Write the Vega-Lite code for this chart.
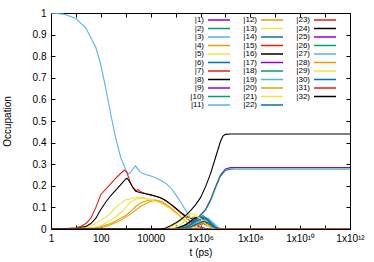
{
  "$schema": "https://vega.github.io/schema/vega-lite/v6.json",
  "width": 299,
  "height": 216,
  "autosize": "none",
  "padding": {"left": 51, "top": 13, "right": 24, "bottom": 33},
  "background": "white",
  "config": {
    "view": {"stroke": null},
    "font": "Liberation Sans",
    "axis": {"domainColor": "black", "labelColor": "black", "tickColor": "black", "titleColor": "black", "labelFont": "Liberation Sans", "titleFont": "Liberation Sans", "labelFontSize": 10, "titleFontSize": 10, "titleFontWeight": "normal", "grid": false, "zindex": 1, "tickSize": -4, "domainWidth": 1}
  },
  "data": {"values": [
    {"s":"|1)","t":1,"v":0},{"s":"|1)","t":1e12,"v":0},
    {"s":"|2)","t":1,"v":0},{"s":"|2)","t":1e12,"v":0},
    {"s":"|3)","t":1,"v":1},{"s":"|3)","t":3.162,"v":0.995},{"s":"|3)","t":10,"v":0.975},{"s":"|3)","t":25.12,"v":0.93},{"s":"|3)","t":63.1,"v":0.84},{"s":"|3)","t":100,"v":0.76},{"s":"|3)","t":158.5,"v":0.65},{"s":"|3)","t":251.2,"v":0.53},{"s":"|3)","t":398.1,"v":0.42},{"s":"|3)","t":631,"v":0.33},{"s":"|3)","t":1000,"v":0.275},{"s":"|3)","t":1259,"v":0.255},{"s":"|3)","t":1585,"v":0.262},{"s":"|3)","t":1995,"v":0.28},{"s":"|3)","t":2512,"v":0.292},{"s":"|3)","t":3162,"v":0.275},{"s":"|3)","t":3981,"v":0.262},{"s":"|3)","t":6310,"v":0.252},{"s":"|3)","t":10000,"v":0.245},{"s":"|3)","t":15850,"v":0.237},{"s":"|3)","t":25120,"v":0.226},{"s":"|3)","t":39810,"v":0.212},{"s":"|3)","t":63100,"v":0.192},{"s":"|3)","t":100000,"v":0.16},{"s":"|3)","t":158500,"v":0.126},{"s":"|3)","t":251200,"v":0.087},{"s":"|3)","t":398100,"v":0.052},{"s":"|3)","t":631000,"v":0.025},{"s":"|3)","t":1000000,"v":0.01},{"s":"|3)","t":1585000,"v":0.003},{"s":"|3)","t":2512000,"v":0},{"s":"|3)","t":1e12,"v":0},
    {"s":"|4)","t":1,"v":0},{"s":"|4)","t":39.81,"v":0.003},{"s":"|4)","t":100,"v":0.012},{"s":"|4)","t":251.2,"v":0.025},{"s":"|4)","t":631,"v":0.05},{"s":"|4)","t":1000,"v":0.062},{"s":"|4)","t":1585,"v":0.082},{"s":"|4)","t":2512,"v":0.104},{"s":"|4)","t":3981,"v":0.12},{"s":"|4)","t":6310,"v":0.13},{"s":"|4)","t":10000,"v":0.134},{"s":"|4)","t":15850,"v":0.134},{"s":"|4)","t":25120,"v":0.128},{"s":"|4)","t":39810,"v":0.115},{"s":"|4)","t":63100,"v":0.098},{"s":"|4)","t":100000,"v":0.078},{"s":"|4)","t":158500,"v":0.057},{"s":"|4)","t":251200,"v":0.037},{"s":"|4)","t":398100,"v":0.02},{"s":"|4)","t":631000,"v":0.008},{"s":"|4)","t":1000000,"v":0.002},{"s":"|4)","t":1585000,"v":0},{"s":"|4)","t":1e12,"v":0},
    {"s":"|5)","t":1,"v":0},{"s":"|5)","t":15.85,"v":0.002},{"s":"|5)","t":39.81,"v":0.015},{"s":"|5)","t":100,"v":0.04},{"s":"|5)","t":158.5,"v":0.055},{"s":"|5)","t":251.2,"v":0.075},{"s":"|5)","t":398.1,"v":0.1},{"s":"|5)","t":631,"v":0.12},{"s":"|5)","t":1000,"v":0.135},{"s":"|5)","t":1585,"v":0.14},{"s":"|5)","t":2512,"v":0.145},{"s":"|5)","t":3981,"v":0.147},{"s":"|5)","t":6310,"v":0.143},{"s":"|5)","t":10000,"v":0.137},{"s":"|5)","t":15850,"v":0.13},{"s":"|5)","t":25120,"v":0.122},{"s":"|5)","t":39810,"v":0.108},{"s":"|5)","t":63100,"v":0.095},{"s":"|5)","t":100000,"v":0.075},{"s":"|5)","t":158500,"v":0.056},{"s":"|5)","t":251200,"v":0.035},{"s":"|5)","t":398100,"v":0.018},{"s":"|5)","t":631000,"v":0.007},{"s":"|5)","t":1000000,"v":0.002},{"s":"|5)","t":1585000,"v":0},{"s":"|5)","t":1e12,"v":0},
    {"s":"|6)","t":1,"v":0},{"s":"|6)","t":63100,"v":0},{"s":"|6)","t":158500,"v":0.01},{"s":"|6)","t":398100,"v":0.03},{"s":"|6)","t":794300,"v":0.05},{"s":"|6)","t":1259000,"v":0.055},{"s":"|6)","t":1995000,"v":0.04},{"s":"|6)","t":3162000,"v":0.015},{"s":"|6)","t":5012000,"v":0},{"s":"|6)","t":1e12,"v":0},
    {"s":"|7)","t":1,"v":0},{"s":"|7)","t":3.162,"v":0.001},{"s":"|7)","t":10,"v":0.006},{"s":"|7)","t":15.85,"v":0.013},{"s":"|7)","t":25.12,"v":0.025},{"s":"|7)","t":39.81,"v":0.05},{"s":"|7)","t":63.1,"v":0.1},{"s":"|7)","t":100,"v":0.16},{"s":"|7)","t":158.5,"v":0.185},{"s":"|7)","t":251.2,"v":0.21},{"s":"|7)","t":398.1,"v":0.235},{"s":"|7)","t":631,"v":0.258},{"s":"|7)","t":891.3,"v":0.273},{"s":"|7)","t":1122,"v":0.26},{"s":"|7)","t":1585,"v":0.21},{"s":"|7)","t":1995,"v":0.19},{"s":"|7)","t":2512,"v":0.178},{"s":"|7)","t":3162,"v":0.182},{"s":"|7)","t":3981,"v":0.172},{"s":"|7)","t":6310,"v":0.163},{"s":"|7)","t":10000,"v":0.158},{"s":"|7)","t":15850,"v":0.152},{"s":"|7)","t":25120,"v":0.145},{"s":"|7)","t":39810,"v":0.132},{"s":"|7)","t":63100,"v":0.115},{"s":"|7)","t":100000,"v":0.095},{"s":"|7)","t":158500,"v":0.075},{"s":"|7)","t":251200,"v":0.055},{"s":"|7)","t":398100,"v":0.035},{"s":"|7)","t":631000,"v":0.018},{"s":"|7)","t":1000000,"v":0.007},{"s":"|7)","t":1585000,"v":0.002},{"s":"|7)","t":2512000,"v":0},{"s":"|7)","t":1e12,"v":0},
    {"s":"|8)","t":1,"v":0},{"s":"|8)","t":10,"v":0.003},{"s":"|8)","t":25.12,"v":0.012},{"s":"|8)","t":39.81,"v":0.025},{"s":"|8)","t":63.1,"v":0.05},{"s":"|8)","t":100,"v":0.09},{"s":"|8)","t":158.5,"v":0.125},{"s":"|8)","t":251.2,"v":0.155},{"s":"|8)","t":398.1,"v":0.18},{"s":"|8)","t":631,"v":0.205},{"s":"|8)","t":1000,"v":0.232},{"s":"|8)","t":1122,"v":0.235},{"s":"|8)","t":1413,"v":0.22},{"s":"|8)","t":1995,"v":0.19},{"s":"|8)","t":2512,"v":0.175},{"s":"|8)","t":3981,"v":0.168},{"s":"|8)","t":6310,"v":0.163},{"s":"|8)","t":10000,"v":0.158},{"s":"|8)","t":15850,"v":0.152},{"s":"|8)","t":25120,"v":0.145},{"s":"|8)","t":39810,"v":0.132},{"s":"|8)","t":63100,"v":0.115},{"s":"|8)","t":100000,"v":0.097},{"s":"|8)","t":158500,"v":0.078},{"s":"|8)","t":251200,"v":0.06},{"s":"|8)","t":398100,"v":0.05},{"s":"|8)","t":631000,"v":0.052},{"s":"|8)","t":1000000,"v":0.045},{"s":"|8)","t":1585000,"v":0.025},{"s":"|8)","t":2512000,"v":0.008},{"s":"|8)","t":3981000,"v":0},{"s":"|8)","t":1e12,"v":0},
    {"s":"|9)","t":1,"v":0},{"s":"|9)","t":1e12,"v":0},
    {"s":"|10)","t":1,"v":0},{"s":"|10)","t":158500,"v":0},{"s":"|10)","t":398100,"v":0.015},{"s":"|10)","t":1000000,"v":0.04},{"s":"|10)","t":1585000,"v":0.045},{"s":"|10)","t":2512000,"v":0.03},{"s":"|10)","t":3981000,"v":0.008},{"s":"|10)","t":6310000,"v":0},{"s":"|10)","t":1e12,"v":0},
    {"s":"|11)","t":1,"v":0},{"s":"|11)","t":158500,"v":0},{"s":"|11)","t":398100,"v":0.015},{"s":"|11)","t":1000000,"v":0.04},{"s":"|11)","t":1995000,"v":0.05},{"s":"|11)","t":3162000,"v":0.03},{"s":"|11)","t":5012000,"v":0.008},{"s":"|11)","t":7943000,"v":0},{"s":"|11)","t":1e12,"v":0},
    {"s":"|12)","t":1,"v":0},{"s":"|12)","t":100,"v":0.005},{"s":"|12)","t":251.2,"v":0.02},{"s":"|12)","t":631,"v":0.04},{"s":"|12)","t":1585,"v":0.07},{"s":"|12)","t":3981,"v":0.105},{"s":"|12)","t":10000,"v":0.128},{"s":"|12)","t":15850,"v":0.132},{"s":"|12)","t":25120,"v":0.127},{"s":"|12)","t":39810,"v":0.115},{"s":"|12)","t":63100,"v":0.098},{"s":"|12)","t":100000,"v":0.078},{"s":"|12)","t":158500,"v":0.057},{"s":"|12)","t":251200,"v":0.037},{"s":"|12)","t":398100,"v":0.02},{"s":"|12)","t":631000,"v":0.008},{"s":"|12)","t":1000000,"v":0.002},{"s":"|12)","t":1585000,"v":0},{"s":"|12)","t":1e12,"v":0},
    {"s":"|13)","t":1,"v":0},{"s":"|13)","t":39.81,"v":0.004},{"s":"|13)","t":100,"v":0.015},{"s":"|13)","t":251.2,"v":0.04},{"s":"|13)","t":631,"v":0.075},{"s":"|13)","t":1000,"v":0.1},{"s":"|13)","t":1585,"v":0.125},{"s":"|13)","t":2512,"v":0.138},{"s":"|13)","t":3981,"v":0.142},{"s":"|13)","t":6310,"v":0.14},{"s":"|13)","t":10000,"v":0.135},{"s":"|13)","t":15850,"v":0.128},{"s":"|13)","t":25120,"v":0.12},{"s":"|13)","t":39810,"v":0.106},{"s":"|13)","t":63100,"v":0.092},{"s":"|13)","t":100000,"v":0.073},{"s":"|13)","t":158500,"v":0.055},{"s":"|13)","t":251200,"v":0.035},{"s":"|13)","t":398100,"v":0.018},{"s":"|13)","t":631000,"v":0.007},{"s":"|13)","t":1000000,"v":0.002},{"s":"|13)","t":1585000,"v":0},{"s":"|13)","t":1e12,"v":0},
    {"s":"|14)","t":1,"v":0},{"s":"|14)","t":100000,"v":0},{"s":"|14)","t":251200,"v":0.015},{"s":"|14)","t":631000,"v":0.045},{"s":"|14)","t":1259000,"v":0.062},{"s":"|14)","t":1995000,"v":0.045},{"s":"|14)","t":3162000,"v":0.015},{"s":"|14)","t":5012000,"v":0},{"s":"|14)","t":1e12,"v":0},
    {"s":"|15)","t":1,"v":0},{"s":"|15)","t":158500,"v":0},{"s":"|15)","t":398100,"v":0.01},{"s":"|15)","t":794300,"v":0.025},{"s":"|15)","t":1259000,"v":0.03},{"s":"|15)","t":1995000,"v":0.02},{"s":"|15)","t":3162000,"v":0.005},{"s":"|15)","t":5012000,"v":0},{"s":"|15)","t":1e12,"v":0},
    {"s":"|16)","t":1,"v":0},{"s":"|16)","t":100000,"v":0},{"s":"|16)","t":251200,"v":0.02},{"s":"|16)","t":501200,"v":0.045},{"s":"|16)","t":794300,"v":0.055},{"s":"|16)","t":1259000,"v":0.045},{"s":"|16)","t":1995000,"v":0.02},{"s":"|16)","t":3162000,"v":0.005},{"s":"|16)","t":5012000,"v":0},{"s":"|16)","t":1e12,"v":0},
    {"s":"|17)","t":1,"v":0},{"s":"|17)","t":1e12,"v":0},
    {"s":"|18)","t":1,"v":0},{"s":"|18)","t":251200,"v":0},{"s":"|18)","t":631000,"v":0.02},{"s":"|18)","t":1259000,"v":0.035},{"s":"|18)","t":1995000,"v":0.03},{"s":"|18)","t":3162000,"v":0.01},{"s":"|18)","t":5012000,"v":0},{"s":"|18)","t":1e12,"v":0},
    {"s":"|19)","t":1,"v":0},{"s":"|19)","t":251200,"v":0},{"s":"|19)","t":631000,"v":0.02},{"s":"|19)","t":1259000,"v":0.04},{"s":"|19)","t":1995000,"v":0.042},{"s":"|19)","t":3162000,"v":0.02},{"s":"|19)","t":5012000,"v":0},{"s":"|19)","t":1e12,"v":0},
    {"s":"|20)","t":1,"v":0},{"s":"|20)","t":158500,"v":0},{"s":"|20)","t":398100,"v":0.02},{"s":"|20)","t":794300,"v":0.04},{"s":"|20)","t":1259000,"v":0.045},{"s":"|20)","t":1995000,"v":0.03},{"s":"|20)","t":3162000,"v":0.01},{"s":"|20)","t":5012000,"v":0},{"s":"|20)","t":1e12,"v":0},
    {"s":"|21)","t":1,"v":0},{"s":"|21)","t":39810,"v":0},{"s":"|21)","t":100000,"v":0.02},{"s":"|21)","t":199500,"v":0.05},{"s":"|21)","t":398100,"v":0.072},{"s":"|21)","t":631000,"v":0.065},{"s":"|21)","t":1000000,"v":0.045},{"s":"|21)","t":1585000,"v":0.02},{"s":"|21)","t":2512000,"v":0.005},{"s":"|21)","t":3981000,"v":0},{"s":"|21)","t":1e12,"v":0},
    {"s":"|22)","t":1,"v":0},{"s":"|22)","t":158500,"v":0},{"s":"|22)","t":398100,"v":0.02},{"s":"|22)","t":794300,"v":0.04},{"s":"|22)","t":1585000,"v":0.05},{"s":"|22)","t":2512000,"v":0.03},{"s":"|22)","t":3981000,"v":0.008},{"s":"|22)","t":6310000,"v":0},{"s":"|22)","t":1e12,"v":0},
    {"s":"|23)","t":1,"v":0},{"s":"|23)","t":251200,"v":0},{"s":"|23)","t":631000,"v":0.015},{"s":"|23)","t":1259000,"v":0.025},{"s":"|23)","t":1995000,"v":0.015},{"s":"|23)","t":3162000,"v":0.003},{"s":"|23)","t":5012000,"v":0},{"s":"|23)","t":1e12,"v":0},
    {"s":"|24)","t":1,"v":0},{"s":"|24)","t":1e12,"v":0},
    {"s":"|25)","t":1,"v":0},{"s":"|25)","t":100000,"v":0},{"s":"|25)","t":251200,"v":0.008},{"s":"|25)","t":398100,"v":0.02},{"s":"|25)","t":631000,"v":0.04},{"s":"|25)","t":1000000,"v":0.065},{"s":"|25)","t":1585000,"v":0.09},{"s":"|25)","t":2512000,"v":0.135},{"s":"|25)","t":3981000,"v":0.195},{"s":"|25)","t":6310000,"v":0.25},{"s":"|25)","t":10000000,"v":0.278},{"s":"|25)","t":15850000,"v":0.284},{"s":"|25)","t":25120000,"v":0.285},{"s":"|25)","t":1e12,"v":0.285},
    {"s":"|26)","t":1,"v":0},{"s":"|26)","t":100000,"v":0},{"s":"|26)","t":251200,"v":0.007},{"s":"|26)","t":398100,"v":0.018},{"s":"|26)","t":631000,"v":0.038},{"s":"|26)","t":1000000,"v":0.062},{"s":"|26)","t":1585000,"v":0.087},{"s":"|26)","t":2512000,"v":0.13},{"s":"|26)","t":3981000,"v":0.19},{"s":"|26)","t":6310000,"v":0.244},{"s":"|26)","t":10000000,"v":0.271},{"s":"|26)","t":15850000,"v":0.277},{"s":"|26)","t":25120000,"v":0.278},{"s":"|26)","t":1e12,"v":0.278},
    {"s":"|27)","t":1,"v":0},{"s":"|27)","t":1e12,"v":0},
    {"s":"|28)","t":1,"v":0},{"s":"|28)","t":251200,"v":0},{"s":"|28)","t":631000,"v":0.015},{"s":"|28)","t":1259000,"v":0.03},{"s":"|28)","t":1995000,"v":0.02},{"s":"|28)","t":3162000,"v":0.005},{"s":"|28)","t":5012000,"v":0},{"s":"|28)","t":1e12,"v":0},
    {"s":"|29)","t":1,"v":0},{"s":"|29)","t":63100,"v":0},{"s":"|29)","t":158500,"v":0.02},{"s":"|29)","t":316200,"v":0.05},{"s":"|29)","t":631000,"v":0.06},{"s":"|29)","t":1000000,"v":0.05},{"s":"|29)","t":1585000,"v":0.025},{"s":"|29)","t":2512000,"v":0.006},{"s":"|29)","t":3981000,"v":0},{"s":"|29)","t":1e12,"v":0},
    {"s":"|30)","t":1,"v":0},{"s":"|30)","t":251200,"v":0},{"s":"|30)","t":631000,"v":0.02},{"s":"|30)","t":1259000,"v":0.035},{"s":"|30)","t":1995000,"v":0.03},{"s":"|30)","t":3162000,"v":0.01},{"s":"|30)","t":5012000,"v":0},{"s":"|30)","t":1e12,"v":0},
    {"s":"|31)","t":1,"v":0},{"s":"|31)","t":1e12,"v":0},
    {"s":"|32)","t":1,"v":0},{"s":"|32)","t":25120,"v":0},{"s":"|32)","t":39810,"v":0.005},{"s":"|32)","t":63100,"v":0.015},{"s":"|32)","t":100000,"v":0.028},{"s":"|32)","t":158500,"v":0.043},{"s":"|32)","t":251200,"v":0.062},{"s":"|32)","t":398100,"v":0.085},{"s":"|32)","t":631000,"v":0.112},{"s":"|32)","t":1000000,"v":0.145},{"s":"|32)","t":1585000,"v":0.195},{"s":"|32)","t":2512000,"v":0.255},{"s":"|32)","t":3981000,"v":0.33},{"s":"|32)","t":6310000,"v":0.405},{"s":"|32)","t":7943000,"v":0.43},{"s":"|32)","t":10000000,"v":0.438},{"s":"|32)","t":15850000,"v":0.44},{"s":"|32)","t":1e12,"v":0.44}
  ]},
  "layer": [
    {
      "mark": {"type": "line", "strokeWidth": 1.1, "clip": true},
      "encoding": {
        "x": {"field": "t", "type": "quantitative", "scale": {"type": "log", "domain": [1, 1e12], "nice": false},
          "axis": {"orient": "bottom", "title": "t (ps)", "values": [1,10,100,1000,10000,100000,1000000,10000000,100000000,1000000000,10000000000,100000000000,1000000000000],
            "labelExpr": "datum.value==1?'1':datum.value==100?'100':datum.value==10000?'10000':datum.value==1e6?'1x10⁶':datum.value==1e8?'1x10⁸':datum.value==1e10?'1x10¹⁰':datum.value==1e12?'1x10¹²':''",
            "labelPadding": 8, "titlePadding": 4, "labelFlush": false, "labelOverlap": false}},
        "y": {"field": "v", "type": "quantitative", "scale": {"domain": [0, 1], "nice": false},
          "axis": {"orient": "left", "title": "Occupation", "values": [0,0.1,0.2,0.3,0.4,0.5,0.6,0.7,0.8,0.9,1], "format": "~g", "labelPadding": 9, "titlePadding": 20}},
        "color": {"field": "s", "type": "nominal",
          "scale": {"domain": ["|1)","|2)","|3)","|4)","|5)","|6)","|7)","|8)","|9)","|10)","|11)","|12)","|13)","|14)","|15)","|16)","|17)","|18)","|19)","|20)","|21)","|22)","|23)","|24)","|25)","|26)","|27)","|28)","|29)","|30)","|31)","|32)"],
            "range": ["#9400d3","#009e73","#56b4e9","#e69f00","#f0e442","#0072b2","#e51e10","#000000","#9400d3","#009e73","#56b4e9","#e69f00","#f0e442","#0072b2","#e51e10","#000000","#9400d3","#009e73","#56b4e9","#e69f00","#f0e442","#0072b2","#e51e10","#000000","#9400d3","#009e73","#56b4e9","#e69f00","#f0e442","#0072b2","#e51e10","#000000"]},
          "legend": {"orient": "none", "legendX": 152, "legendY": 3, "columns": 3, "title": null, "direction": "vertical", "symbolLimit": 40, "symbolType": "M-4,0H4", "symbolSize": 30.25, "symbolStrokeWidth": 1.5, "symbolOffset": 12, "labelAlign": "right", "labelOffset": -19, "labelFontSize": 8, "labelFont": "Liberation Sans", "labelColor": "black", "rowPadding": 0.5, "columnPadding": 10, "padding": 0}}
      }
    },
    {
      "mark": {"type": "point", "opacity": 0},
      "encoding": {
        "x": {"field": "t", "type": "quantitative", "scale": {"type": "log", "domain": [1, 1e12], "nice": false},
          "axis": {"orient": "top", "title": null, "labels": false, "values": [1,10,100,1000,10000,100000,1000000,10000000,100000000,1000000000,10000000000,100000000000,1000000000000]}},
        "y": {"field": "v", "type": "quantitative", "scale": {"domain": [0, 1], "nice": false},
          "axis": {"orient": "right", "title": null, "labels": false, "values": [0,0.1,0.2,0.3,0.4,0.5,0.6,0.7,0.8,0.9,1]}}
      }
    }
  ],
  "resolve": {"axis": {"x": "independent", "y": "independent"}}
}
